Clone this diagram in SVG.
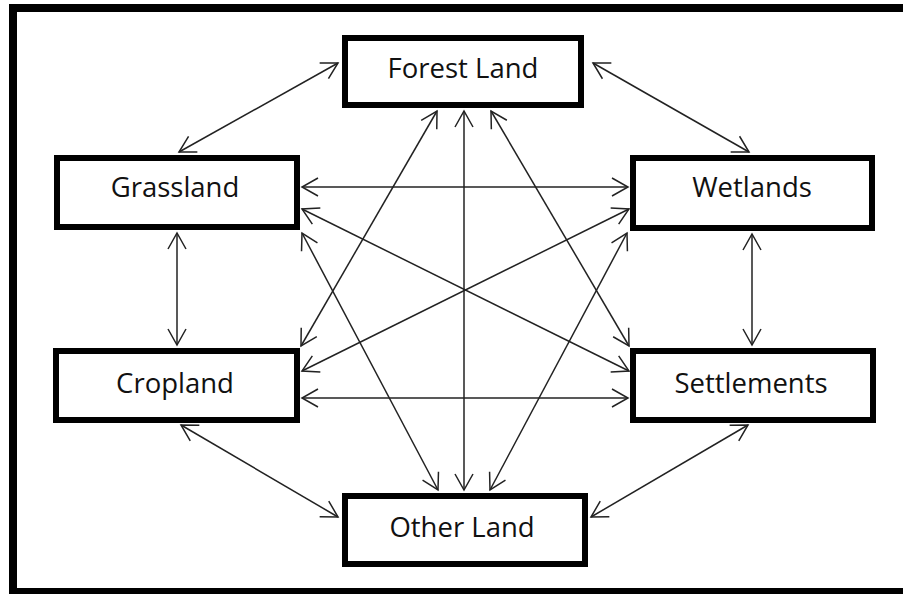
<svg xmlns="http://www.w3.org/2000/svg" width="903" height="594" viewBox="0 0 903 594">
<style>
.box{fill:#fff;stroke:#000;stroke-width:6}
.lbl{font-family:"Open Sans","Liberation Sans",sans-serif;font-size:27.5px;fill:#111;text-anchor:middle}
.c{stroke:#222;stroke-width:1.5;fill:none;marker-start:url(#ah);marker-end:url(#ah)}
</style>
<defs>
<marker id="ah" markerUnits="userSpaceOnUse" markerWidth="40" markerHeight="40" viewBox="-20 -20 40 40" refX="0" refY="0" orient="auto-start-reverse">
<path d="M-16,-9 L0,0 L-16,9" fill="none" stroke="#222" stroke-width="1.5"/>
</marker>
</defs>
<rect x="0" y="0" width="903" height="594" fill="#fff"/>
<rect x="13" y="8" width="900" height="584" fill="none" stroke="#000" stroke-width="8"/>
<g id="connectors">
<line class="c" x1="179" y1="152" x2="338" y2="63"/>
<line class="c" x1="593" y1="63" x2="749" y2="152"/>
<line class="c" x1="177" y1="233" x2="177" y2="345"/>
<line class="c" x1="752" y1="234" x2="752" y2="345"/>
<line class="c" x1="181" y1="425" x2="338" y2="517"/>
<line class="c" x1="748" y1="425" x2="591" y2="517"/>
<line class="c" x1="464" y1="111" x2="464" y2="490"/>
<line class="c" x1="302" y1="187" x2="628" y2="187"/>
<line class="c" x1="302" y1="398" x2="628" y2="398"/>
<line class="c" x1="302" y1="209" x2="629" y2="371"/>
<line class="c" x1="302" y1="371" x2="629" y2="209"/>
<line class="c" x1="437" y1="111" x2="301" y2="346"/>
<line class="c" x1="491" y1="111" x2="629" y2="346"/>
<line class="c" x1="302" y1="233" x2="438" y2="490"/>
<line class="c" x1="627" y1="233" x2="490" y2="490"/>
</g>
<g id="forest"><rect class="box" x="345" y="38" width="236" height="67"/><text class="lbl" x="463" y="78">Forest Land</text></g>
<g id="grassland"><rect class="box" x="57" y="158" width="240" height="69"/><text class="lbl" x="175" y="197">Grassland</text></g>
<g id="wetlands"><rect class="box" x="633" y="158" width="239" height="70"/><text class="lbl" x="752" y="197">Wetlands</text></g>
<g id="cropland"><rect class="box" x="56" y="351" width="241" height="69"/><text class="lbl" x="175" y="393">Cropland</text></g>
<g id="settlements"><rect class="box" x="633" y="351" width="240" height="69"/><text class="lbl" x="751" y="393">Settlements</text></g>
<g id="other"><rect class="box" x="345" y="496" width="240" height="68"/><text class="lbl" x="462" y="537">Other Land</text></g>
</svg>
